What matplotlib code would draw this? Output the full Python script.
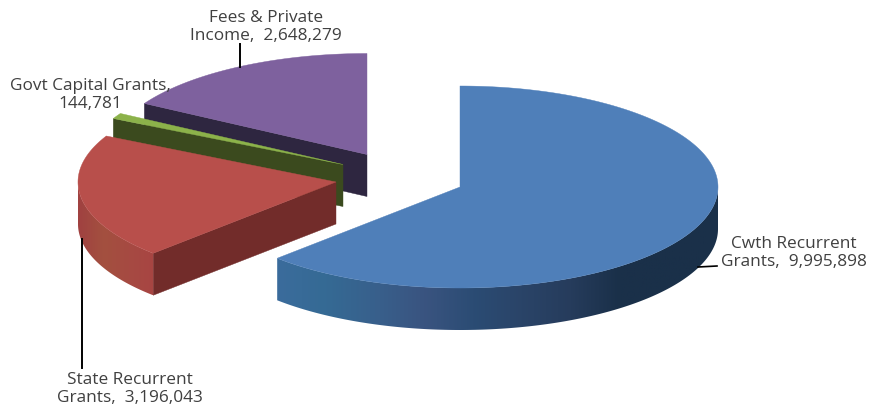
import numpy as np
import matplotlib
matplotlib.use("Agg")
import matplotlib.pyplot as plt
from matplotlib.colors import LinearSegmentedColormap
from matplotlib.patches import Polygon

# Income by source
names = ["Cwth Recurrent\nGrants", "State Recurrent\nGrants", "Govt Capital Grants", "Fees & Private\nIncome"]
values = [9995898, 3196043, 144781, 2648279]

top_colors = ["#4f7fb9", "#b84f4b", "#8cb24a", "#7e619e"]
side_colors = ["#1a3049", "#722c2a", "#3b4a1e", "#2e2640"]
rim_colors = [
    ["#3b6c9c", "#356a94", "#38608c", "#3a5480", "#2b4c74", "#2a4468", "#263c5c", "#1a3049", "#1a3049", "#1a3049"],
    ["#a04141", "#a3503f", "#a64a42", "#a84543"],
    ["#3b4a1e", "#3b4a1e"],
    ["#2e2640", "#2e2640"],
]

# Pie geometry, in pixels
centers = [(460, 188), (336, 183), (343, 165.5), (367, 155.5)]
rx = 258
ry = 101
depth = 42
text_color = "#404040"

plt.rcParams['font.family'] = ['Open Sans', 'DejaVu Sans']

fig = plt.figure(figsize=(8.83, 4.10), dpi=100)
ax = fig.add_axes([0, 0, 1, 1])
ax.axis("off")


def rim_point(center, angle):
    # angle is clockwise from twelve o'clock
    return center[0] + rx * np.sin(angle), center[1] - ry * np.cos(angle)


def draw_slice(center, start, end, top, side, rim, zorder):
    # straight cut faces that look towards the viewer
    for edge, visible in ((start, np.sin(start) < -1e-6), (end, np.sin(end) > 1e-6)):
        if visible:
            x, y = rim_point(center, edge)
            pts = [center, (x, y), (x, y + depth), (center[0], center[1] + depth)]
            ax.add_patch(Polygon(pts, closed=True, fc=side, ec=side, lw=0.3, zorder=zorder))

    # curved outer wall, shaded from left to right
    lo = max(start, np.pi / 2)
    hi = min(end, 3 * np.pi / 2)
    if lo < hi:
        angles = np.linspace(lo, hi, 160)
        xs, ys = rim_point(center, angles)
        outline = list(zip(xs, ys)) + list(zip(xs[::-1], ys[::-1] + depth))
        cmap = LinearSegmentedColormap.from_list("rim", rim)
        shade = np.linspace(0, 1, 256).reshape(1, -1)
        im = ax.imshow(shade, cmap=cmap, aspect="auto", zorder=zorder,
                       extent=(xs.min(), xs.max(), ys.max() + depth, ys.min()))
        clip = Polygon(outline, closed=True, transform=ax.transData)
        im.set_clip_path(clip)

    # top face
    angles = np.linspace(start, end, 200)
    xs, ys = rim_point(center, angles)
    pts = [center] + list(zip(xs, ys))
    ax.add_patch(Polygon(pts, closed=True, fc=top, ec=top, lw=0.3, zorder=zorder + 0.5))


total = sum(values)
edges = 2 * np.pi * np.cumsum([0] + values) / total

# back slices first so the nearer ones cover them
for i in [3, 2, 1, 0]:
    draw_slice(centers[i], edges[i], edges[i + 1], top_colors[i], side_colors[i], rim_colors[i], 2 + (3 - i))

# leader lines
ax.plot([240, 240], [45, 68], color="black", lw=1.4, zorder=10)
ax.plot([81.5, 81.5], [240, 369], color="black", lw=1.4, zorder=10)
ax.plot([698, 717], [268, 267], color="black", lw=1.2, zorder=10)

# data labels
label_pos = [(794, 253), (130, 389), (90, 95), (266, 27)]
for name, val, (x, y) in zip(names, values, label_pos):
    tail = f"{val:,}"
    txt = f"{name},\n{tail}" if "\n" not in name else f"{name},  {tail}"
    ax.text(x, y, txt, ha="center", va="center", fontsize=12.4, color=text_color,
            linespacing=1.14, zorder=11)

ax.set_xlim(0, 883)
ax.set_ylim(410, 0)

fig.savefig("out.png", dpi=100)
